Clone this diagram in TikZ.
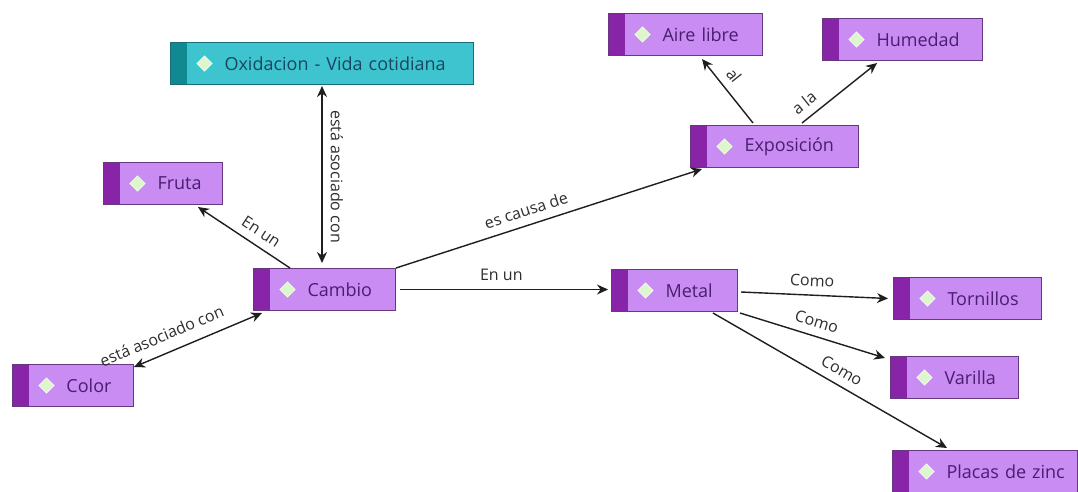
\documentclass[tikz,border=0pt]{standalone}
\usepackage{fontspec}
\setmainfont{Open Sans}
\usetikzlibrary{arrows.meta}

\definecolor{conceptfill}{RGB}{200,140,242}
\definecolor{conceptstripe}{RGB}{136,36,168}
\definecolor{conceptline}{RGB}{104,56,126}
\definecolor{concepttext}{RGB}{74,30,112}
\definecolor{rootfill}{RGB}{62,196,206}
\definecolor{rootstripe}{RGB}{16,138,144}
\definecolor{rootline}{RGB}{22,112,122}
\definecolor{roottext}{RGB}{24,70,100}
\definecolor{iconfill}{RGB}{222,246,204}
\definecolor{iconedge}{RGB}{238,250,230}
\definecolor{linkcolor}{RGB}{30,30,30}
\definecolor{labeltext}{RGB}{46,46,46}

% stripe on the left edge and the small diamond icon of a concept box
\newcommand\conceptdeco[1]{%
  \fill[#1] (path picture bounding box.north west) rectangle
            ([xshift=16pt]path picture bounding box.south west);
  \filldraw[fill=iconfill, draw=iconedge, line width=1pt]
    ([xshift=34pt,yshift=7.5pt]path picture bounding box.west)
    -- ++(7.5pt,-7.5pt) -- ++(-7.5pt,-7.5pt) -- ++(-7.5pt,7.5pt) -- cycle;
}

\tikzset{
  conceptbase/.style={anchor=north west, minimum height=42pt,
    inner xsep=0pt, inner ysep=0pt, text width=#1, align=left,
    line width=1pt, font=\fontsize{18}{20}\selectfont,
    execute at begin node={\hspace*{54pt}}},
  concept/.style={conceptbase=#1, draw=conceptline, fill=conceptfill,
    text=concepttext, path picture={\conceptdeco{conceptstripe}}},
  rootconcept/.style={conceptbase=#1, draw=rootline, fill=rootfill,
    text=roottext, path picture={\conceptdeco{rootstripe}}},
  link/.style={draw=linkcolor, line width=1.4pt,
    -{Stealth[length=11pt,width=10pt]}},
  duallink/.style={draw=linkcolor, line width=1.4pt,
    {Stealth[length=11pt,width=10pt]}-{Stealth[length=11pt,width=10pt]}},
  lbl/.style={font=\fontsize{16}{18}\selectfont, text=labeltext,
    sloped, above=5pt, inner sep=3pt},
  lblturned/.style={font=\fontsize{16}{18}\selectfont, text=labeltext,
    rotate=-90, above=5pt, inner sep=3pt},
}

\begin{document}
\begin{tikzpicture}[x=1pt,y=-1pt]
\fill[white] (0,0) rectangle (1078,491);
\useasboundingbox (0,0) rectangle (1078,491);

% concepts
\node[rootconcept=303pt] (ox)     at (170,42)  {Oxidacion - Vida cotidiana};
\node[concept=119pt]     (fruta)  at (103,162) {Fruta};
\node[concept=142pt]     (cambio) at (253,268) {Cambio};
\node[concept=121pt]     (color)  at (12,364)  {Color};
\node[concept=154pt]     (aire)   at (608,13)  {Aire libre};
\node[concept=160pt]     (hum)    at (822,18)  {Humedad};
\node[concept=168pt]     (expo)   at (690,125) {Exposición};
\node[concept=126pt]     (metal)  at (611,269) {Metal};
\node[concept=148pt]     (torn)   at (893,277) {Tornillos};
\node[concept=128pt]     (var)    at (890,356) {Varilla};
\node[concept=185pt]     (placas) at (892,450) {Placas de zinc};

% links
\draw[duallink, shorten <=1pt, shorten >=5pt]
  (ox.south) -- (ox.south |- cambio.north)
  node[lblturned, midway] {está asociado con};
\draw[link] ([xshift=37pt]cambio.north west)
  -- node[lbl, pos=0.4] {En un} ([xshift=-25pt,yshift=-2pt]fruta.south east);
\draw[duallink] ([xshift=9pt,yshift=-2pt]cambio.south west)
  -- node[lbl, pos=0.73, above=3pt] {está asociado con} ([yshift=-3pt]color.north east);
\draw[link] (cambio.north east)
  -- node[lbl, pos=0.44] {es causa de} ([xshift=12pt,yshift=-1pt]expo.south west);
\draw[link, shorten <=4pt, shorten >=3pt] (cambio.east)
  -- node[lbl, pos=0.49] {En un} (cambio.east -| metal.west);
\draw[link] ([xshift=63pt,yshift=2pt]expo.north west)
  -- node[lbl, pos=0.6] {al} ([xshift=94pt,yshift=-3pt]aire.south west);
\draw[link] ([xshift=112pt,yshift=2pt]expo.north west)
  -- node[lbl, pos=0.15] {a la} ([xshift=55pt,yshift=-2pt]hum.south west);
\draw[link] ([xshift=3pt,yshift=-1.5pt]metal.east)
  -- node[lbl, pos=0.48] {Como} ([xshift=-5pt]torn.west);
\draw[link] ([xshift=2pt,yshift=-1pt]metal.south east)
  -- node[lbl, pos=0.5] {Como} ([xshift=-5pt,yshift=-2pt]var.north west);
\draw[link] ([xshift=102pt,yshift=-1pt]metal.south west)
  -- node[lbl, pos=0.52] {Como} ([xshift=55pt,yshift=2pt]placas.north west);
\end{tikzpicture}
\end{document}
